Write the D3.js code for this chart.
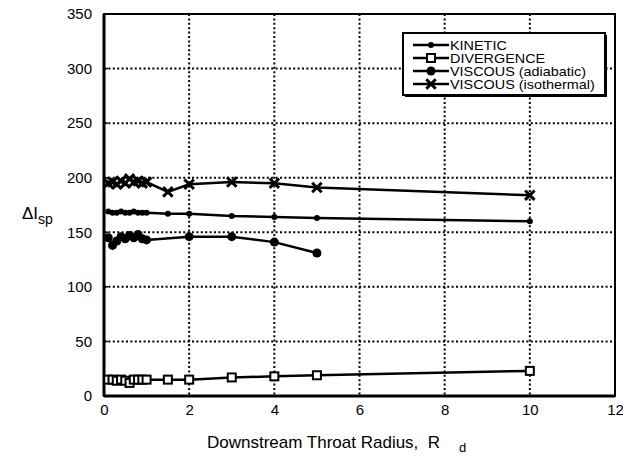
<!DOCTYPE html>
<html>
<head>
<meta charset="utf-8">
<script src="https://cdn.jsdelivr.net/npm/d3@7"></script>
<style>
  html, body { margin: 0; padding: 0; background: #fff; }
  svg { display: block; font-family: Arial, "Liberation Sans", Helvetica, sans-serif; }
</style>
</head>
<body>
<svg id="chart" width="623" height="456"></svg>
<script>
// ---- data ----
const xTicks = [0, 2, 4, 6, 8, 10, 12];
const yTicks = [0, 50, 100, 150, 200, 250, 300, 350];

const kineticX = [0.1, 0.2, 0.3, 0.4, 0.5, 0.6, 0.7, 0.8, 0.9, 1.0, 1.5, 2, 3, 4, 5, 10];
const kineticY = [169, 168, 168, 169, 168, 168, 169, 168, 168, 168, 167, 167, 165, 164, 163, 160];

const divergenceX = [0.1, 0.2, 0.3, 0.4, 0.5, 0.6, 0.7, 0.8, 0.9, 1.0, 1.5, 2, 3, 4, 5, 10];
const divergenceY = [15, 15, 14, 15, 14, 12, 15, 15, 15, 15, 15, 15, 17, 18, 19, 23];

const adiabaticX = [0.1, 0.2, 0.3, 0.4, 0.5, 0.6, 0.7, 0.8, 0.9, 1.0, 2, 3, 4, 5];
const adiabaticY = [145, 138, 142, 146, 144, 147, 145, 148, 144, 143, 146, 146, 141, 131];

const isothermalX = [0.1, 0.2, 0.3, 0.4, 0.5, 0.6, 0.7, 0.8, 0.9, 1.0, 1.5, 2, 3, 4, 5, 10];
const isothermalY = [195, 196, 194, 197, 195, 199, 196, 197, 195, 196, 187, 194, 196, 195, 191, 184];

const seriesNames = ["KINETIC", "DIVERGENCE", "VISCOUS (adiabatic)", "VISCOUS (isothermal)"];

// ---- layout ----
const svg = d3.select("#chart");
const L = 104, R = 615, T = 14, B = 396;
const x = d3.scaleLinear().domain([0, 12]).range([L, R]);
const y = d3.scaleLinear().domain([0, 350]).range([B, T]);

// grid (dotted)
const grid = svg.append("g");
grid.selectAll("line.gx").data(xTicks.filter(d => d > 0 && d < 12)).enter().append("line")
  .attr("x1", d => x(d)).attr("x2", d => x(d)).attr("y1", T).attr("y2", B)
  .attr("stroke", "#000").attr("stroke-width", 2).attr("stroke-dasharray", "2,2.4");
grid.selectAll("line.gy").data(yTicks.filter(d => d > 0 && d < 350)).enter().append("line")
  .attr("y1", d => y(d)).attr("y2", d => y(d)).attr("x1", L).attr("x2", R)
  .attr("stroke", "#000").attr("stroke-width", 2).attr("stroke-dasharray", "2,2.4");

// axes
const xAxis = d3.axisBottom(x).tickValues(xTicks).tickSize(0).tickPadding(8).tickFormat(d3.format("d"));
const yAxis = d3.axisLeft(y).tickValues(yTicks).tickSize(0).tickPadding(12).tickFormat(d3.format("d"));
const gx = svg.append("g").attr("transform", `translate(0,${B})`).call(xAxis);
const gy = svg.append("g").attr("transform", `translate(${L},0)`).call(yAxis);
[gx, gy].forEach(g => {
  g.select(".domain").remove();
  g.selectAll("text").attr("font-size", 15).attr("fill", "#000")
    .attr("font-family", "Arial, 'Liberation Sans', sans-serif");
});
// small inner tick nubs on left axis
svg.append("g").selectAll("line").data(yTicks.filter(d => d > 0 && d < 350)).enter().append("line")
  .attr("x1", L).attr("x2", L + 4).attr("y1", d => y(d)).attr("y2", d => y(d))
  .attr("stroke", "#000").attr("stroke-width", 1.5);

// frame
svg.append("rect").attr("x", L).attr("y", T).attr("width", R - L).attr("height", B - T)
  .attr("fill", "none").attr("stroke", "#000").attr("stroke-width", 2);
svg.append("line").attr("x1", L).attr("x2", L).attr("y1", T).attr("y2", B)
  .attr("stroke", "#000").attr("stroke-width", 3);
svg.append("line").attr("x1", L).attr("x2", R).attr("y1", B).attr("y2", B)
  .attr("stroke", "#000").attr("stroke-width", 3);

// series
const series = [
  { xs: kineticX, ys: kineticY, marker: "kinetic" },
  { xs: divergenceX, ys: divergenceY, marker: "square" },
  { xs: adiabaticX, ys: adiabaticY, marker: "dot" },
  { xs: isothermalX, ys: isothermalY, marker: "cross" }
];
const line = d3.line().x(d => x(d[0])).y(d => y(d[1]));

function drawMarker(g, type, cx, cy) {
  if (type === "kinetic") {
    g.append("circle").attr("cx", cx).attr("cy", cy).attr("r", 3)
      .attr("fill", "#000");
  } else if (type === "square") {
    g.append("rect").attr("x", cx - 4).attr("y", cy - 4).attr("width", 8).attr("height", 8)
      .attr("fill", "#fff").attr("stroke", "#000").attr("stroke-width", 2);
  } else if (type === "dot") {
    g.append("path").attr("d", d3.symbol(d3.symbolCircle, 64)()).attr("transform", `translate(${cx},${cy})`)
      .attr("fill", "#000");
  } else if (type === "cross") {
    g.append("path").attr("d", d3.symbol(d3.symbolTimes, 60)()).attr("transform", `translate(${cx},${cy})`)
      .attr("fill", "none").attr("stroke", "#000").attr("stroke-width", 3);
  }
}

series.forEach(s => {
  const pts = s.xs.map((v, i) => [v, s.ys[i]]);
  svg.append("path").datum(pts).attr("d", line)
    .attr("fill", "none").attr("stroke", "#000").attr("stroke-width", 2.5);
  const g = svg.append("g");
  pts.forEach(p => drawMarker(g, s.marker, x(p[0]), y(p[1])));
});

// legend
const lg = svg.append("g");
const lx = 403, ly = 33, lw = 202, lh = 62;
lg.append("rect").attr("x", lx + 2).attr("y", ly + 2).attr("width", lw).attr("height", lh).attr("fill", "#000");
lg.append("rect").attr("x", lx).attr("y", ly).attr("width", lw).attr("height", lh)
  .attr("fill", "#fff").attr("stroke", "#000").attr("stroke-width", 2);
const markers = ["kinetic", "square", "dot", "cross"];
seriesNames.forEach((name, i) => {
  const cy = 45 + i * 13;
  lg.append("line").attr("x1", 413).attr("x2", 449).attr("y1", cy).attr("y2", cy)
    .attr("stroke", "#000").attr("stroke-width", 2.5);
  drawMarker(lg, markers[i], 431, cy);
  lg.append("text").attr("transform", `translate(450,${cy + 4.5}) scale(1.2,1)`)
    .attr("font-size", 12).attr("fill", "#000").text(name);
});

// axis titles
svg.append("text").attr("x", 207).attr("y", 448).attr("font-size", 17).attr("fill", "#000")
  .text("Downstream Throat Radius,\u00a0\u00a0R");
svg.append("text").attr("x", 459).attr("y", 452).attr("font-size", 13).attr("fill", "#000").text("d");

const yt = svg.append("text").attr("x", 22).attr("y", 219).attr("font-size", 17).attr("fill", "#000");
yt.append("tspan").text("\u0394I");
yt.append("tspan").attr("font-size", 14).attr("dy", 5).text("sp");
</script>
</body>
</html>
